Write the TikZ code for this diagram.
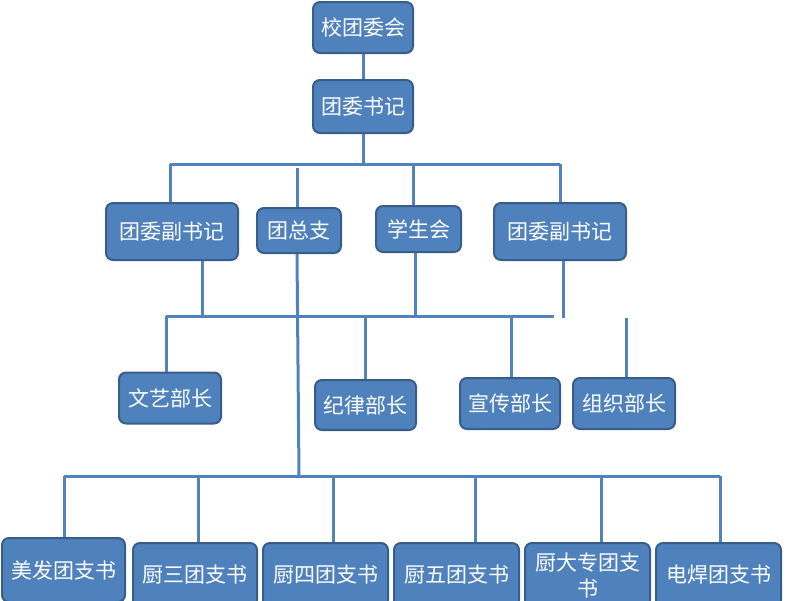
\documentclass[tikz,border=0pt]{standalone}
\usepackage{fontspec}
\newfontfamily\cjk{Noto Sans CJK SC}
\definecolor{boxblue}{HTML}{4F81BD}
\definecolor{boxedge}{HTML}{385D8A}
\definecolor{linkblue}{HTML}{5082BE}

\begin{document}
\begin{tikzpicture}[x=1pt,y=-1pt,font=\cjk\fontsize{21}{26}\selectfont,
  box/.style={draw=boxedge,line width=2pt,fill=boxblue,rounded corners=7pt,text=white,align=center,inner sep=0pt},
  link/.style={draw=linkblue,line width=3pt}]
\useasboundingbox (0,0) rectangle (800,600);
\clip (0,0) rectangle (800,600);
% top
\node[box,minimum width=100pt,minimum height=51pt] (xtwh) at (363,27.5) {校团委会};
\node[box,minimum width=100pt,minimum height=53pt] (twsj) at (363,106.5) {团委书记};
% second row
\node[box,minimum width=132pt,minimum height=57pt] (fsjL) at (172,231.5) {团委副书记};
\node[box,minimum width=84pt,minimum height=45pt] (tzz) at (299,230.5) {团总支};
\node[box,minimum width=85pt,minimum height=46pt] (xsh) at (418.5,229) {学生会};
\node[box,minimum width=132pt,minimum height=57pt] (fsjR) at (560,231.5) {团委副书记};
% departments
\node[box,minimum width=102pt,minimum height=51pt] (wy) at (170,398) {文艺部长};
\node[box,minimum width=101pt,minimum height=50pt] (jl) at (365.5,405) {纪律部长};
\node[box,minimum width=100pt,minimum height=51pt] (xc) at (510,403.5) {宣传部长};
\node[box,minimum width=102pt,minimum height=51pt] (zz) at (624,403.5) {组织部长};
% branches
\node[box,minimum width=123pt,minimum height=64pt] (mf) at (63.5,570) {美发团支书};
\node[box,minimum width=124pt,minimum height=64pt] (csan) at (195,575) {厨三团支书};
\node[box,minimum width=125pt,minimum height=64pt] (csi) at (325.5,575) {厨四团支书};
\node[box,minimum width=125pt,minimum height=64pt] (cwu) at (456.5,575) {厨五团支书};
\node[box,minimum width=125pt,minimum height=64pt,text width=112pt] (cdz) at (587.5,575) {厨大专团支\\书};
\node[box,minimum width=125pt,minimum height=64pt] (dh) at (718.5,575) {电焊团支书};
% bus points
\coordinate (busA) at (363,164);
\coordinate (busAL) at (170,164);
\coordinate (busAR) at (560,164);
\coordinate (busBL) at (166,316);
\coordinate (busBR) at (554,316);
\coordinate (busC) at (299,476);
\coordinate (busCL) at (64,476);
\coordinate (busCR) at (720,476);
% connectors
\draw[link] (xtwh) -- (twsj);
\draw[link] (twsj) -- (busA);
\draw[link] (busAL) -- (busAR);
\draw[link] (busAL) -- (170,0 |- fsjL.north);
\draw[link] (297,168) -- (297,0 |- tzz.north);
\draw[link] (413,164) -- (413,0 |- xsh.north);
\draw[link] (busAR) -- (560,0 |- fsjR.north);
\draw[link] (busBL) -- (busBR);
\draw[link] (202,0 |- fsjL.south) -- (202,316);
\draw[link] (415,0 |- xsh.south) -- (415,316);
\draw[link] (563,0 |- fsjR.south) -- (563,318);
\draw[link] (busBL) -- (166,0 |- wy.north);
\draw[link] (365,316) -- (365,0 |- jl.north);
\draw[link] (511,316) -- (511,0 |- xc.north);
\draw[link] (626,318) -- (626,0 |- zz.north);
\draw[link] (297,0 |- tzz.south) -- (busC);
\draw[link] (busCL) -- (busCR);
\draw[link] (busCL) -- (64,0 |- mf.north);
\draw[link] (198,476) -- (198,0 |- csan.north);
\draw[link] (333,476) -- (333,0 |- csi.north);
\draw[link] (475,476) -- (475,0 |- cwu.north);
\draw[link] (601,476) -- (601,0 |- cdz.north);
\draw[link] (busCR) -- (720,0 |- dh.north);
\end{tikzpicture}
\end{document}
